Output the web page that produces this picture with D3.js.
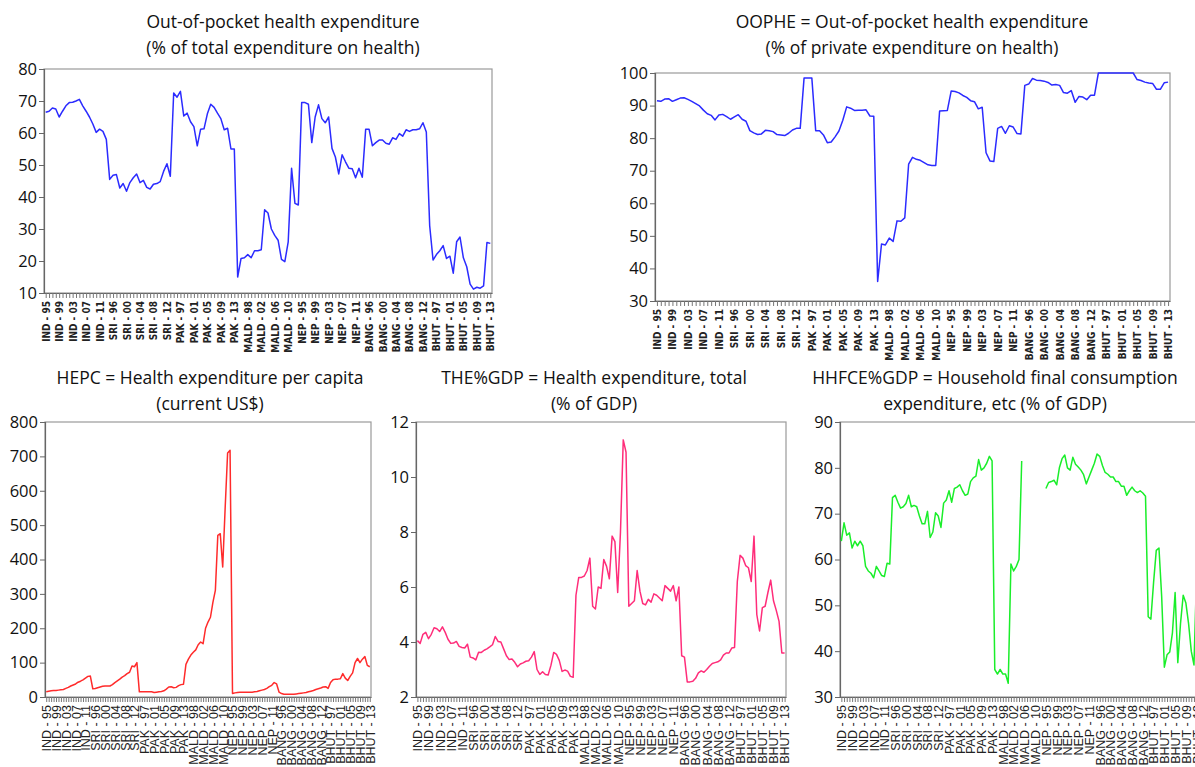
<!DOCTYPE html>
<html>
<head>
<meta charset="utf-8">
<script src="https://cdn.jsdelivr.net/npm/d3@7"></script>
<style>
  html, body { margin: 0; padding: 0; background: #fff; }
  svg { display: block; }
  .title { font-family: "Open Sans", "Noto Sans", sans-serif; font-size: 17.5px; fill: #111; }
  .ytick text { font-family: "Open Sans", "Noto Sans", sans-serif; font-size: 16.5px; fill: #111; }
  .xtop text { font-family: "Liberation Sans Narrow", "DejaVu Sans Condensed", "Liberation Sans", sans-serif; font-size: 10px; font-weight: bold; fill: #222; }
  .xbot text { font-family: "Liberation Sans", "DejaVu Sans", sans-serif; font-size: 12.5px; fill: #222; }
</style>
</head>
<body>
<svg id="chart" width="1195" height="767"></svg>
<script>
// ---- categories ----
const countries = ["IND", "SRI", "PAK", "MALD", "NEP", "BANG", "BHUT"];
const years = ["95","96","97","98","99","00","01","02","03","04","05","06","07","08","09","10","11","12","13"];
const categories = countries.flatMap(c => years.map(y => c + " - " + y));

// ---- series (IND, SRI, PAK, MALD, NEP, BANG, BHUT; 1995-2013 each) ----
const oopTotal = [
  66.5, 66.8, 67.8, 67.5, 65, 66.8, 68.5, 69.5, 69.6, 70, 70.5, 68.5, 66.8, 65, 62.8, 60.2, 61.2, 60.5, 58,
  45.5, 46.8, 47, 42.8, 44.2, 41.8, 44.5, 46, 47.2, 44.5, 45.2, 43, 42.5, 44, 44.2, 44.8, 48, 50.4, 46.5,
  72.5, 71.2, 73, 65.3, 66.2, 63.5, 62, 56, 61.2, 61.3, 66, 69, 68, 66.2, 64.5, 61, 61.5, 55, 55,
  15, 20.8, 21, 22, 21, 23.2, 23.2, 23.5, 36, 35, 30, 28, 26.5, 20.5, 19.8, 26, 49, 38, 37.5,
  69.5, 69.5, 69, 57, 65, 68.8, 64.5, 63.2, 65, 55.2, 52.5, 47.2, 53.2, 51, 49, 48.8, 46, 49, 46.2,
  61.2, 61.2, 56, 57, 57.8, 57.8, 56.8, 56.5, 58.5, 58, 59.8, 59, 61, 60.5, 61, 61, 61.3, 63.2, 60.3,
  31, 20.3, 22, 23.2, 24.8, 20.8, 21.5, 16.2, 26, 27.5, 21, 18.2, 12.8, 11.2, 11.8, 11.5, 12.2, 25.8, 25.5
];
const oopPrivate = [
  91.5, 91.3, 92, 92.1, 91.3, 91.8, 92.3, 92.4, 91.9, 91.3, 90.6, 89.9, 88.6, 87.5, 87, 85.6, 87.1, 87.3, 86.6,
  85.8, 86.5, 87.2, 85.8, 85.2, 82.3, 81.6, 81.1, 81.3, 82.4, 82.3, 82, 81.1, 81, 80.8, 81.5, 82.5, 83, 83,
  98.5, 98.5, 98.5, 82.3, 82.3, 81, 78.6, 78.8, 80.4, 82.2, 85.5, 89.6, 89.2, 88.5, 88.6, 88.6, 88.7, 86.8, 86.7,
  36, 47.5, 47.2, 49.3, 48.3, 54.6, 54.5, 55.5, 72, 74.1, 73.5, 73.2, 72.5, 71.8, 71.6, 71.6, 88.3, 88.4, 88.5,
  94.5, 94.3, 93.9, 93.1, 92.5, 91.5, 91.2, 89, 89.5, 75.5, 73, 72.8, 83, 83.6, 81.5, 83.8, 83.4, 81.4, 81.3,
  96.2, 96.6, 98.3, 97.8, 97.7, 97.5, 97.1, 96.3, 96.5, 96.2, 94, 93.8, 94.6, 91, 92.8, 92.6, 91.8, 93.2, 93.2,
  100, 100, 100, 100, 100, 100, 100, 100, 100, 100, 98, 97.7, 97.2, 96.9, 96.8, 95, 95, 97, 97.2
];
const hepc = [
  15, 17, 18, 19, 19, 20, 21, 22, 25, 28, 32, 35, 38, 43, 46, 50, 55, 60, 61,
  24, 25, 27, 29, 31, 32, 32, 32, 36, 42, 47, 52, 58, 62, 68, 72, 90, 88, 100,
  15, 15, 15, 15, 15, 15, 13, 14, 15, 16, 18, 23, 29, 30, 27, 28, 33, 36, 37,
  95, 110, 122, 130, 137, 152, 160, 155, 200, 218, 232, 275, 310, 470, 475, 378, 550, 710, 718,
  10, 12, 13, 14, 14, 14, 14, 14, 14, 15, 16, 18, 20, 22, 25, 30, 34, 42, 38,
  14, 10, 8, 8, 8, 8, 8, 9, 10, 11, 12, 13, 15, 17, 19, 22, 24, 26, 29,
  30, 25, 42, 50, 52, 52, 53, 68, 55, 48, 60, 70, 100, 112, 100, 110, 118, 92, 88
];
const theGdp = [
  4.05, 3.95, 4.28, 4.35, 4.12, 4.28, 4.52, 4.48, 4.38, 4.55, 4.35, 4.1, 3.95, 3.96, 4.02, 3.84, 3.8, 3.78, 3.92,
  3.45, 3.42, 3.35, 3.63, 3.62, 3.7, 3.75, 3.82, 3.9, 4.2, 4.02, 4.0, 3.75, 3.5, 3.36, 3.38, 3.26, 3.1, 3.2,
  3.24, 3.3, 3.32, 3.45, 3.65, 3.0, 2.82, 2.92, 2.82, 2.8, 3.15, 3.62, 3.55, 3.33, 2.93, 2.98, 2.94, 2.75, 2.72,
  5.7, 6.35, 6.35, 6.4, 6.6, 7.05, 5.3, 5.2, 6.0, 5.95, 7.0, 6.75, 6.3, 7.85, 7.65, 5.8, 8.0, 11.35, 10.9,
  5.3, 5.4, 5.5, 6.6, 5.85, 5.4, 5.35, 5.55, 5.45, 5.75, 5.7, 5.6, 5.5, 6.05, 5.95, 5.85, 6.05, 5.5, 6.0,
  3.5, 3.45, 2.55, 2.55, 2.57, 2.68, 2.88, 2.95, 2.9, 3.0, 3.12, 3.22, 3.25, 3.28, 3.35, 3.52, 3.6, 3.6, 3.78,
  3.8, 6.2, 7.15, 7.05, 6.78, 6.7, 6.2, 7.85, 5.0, 4.4, 5.25, 5.3, 5.8, 6.25, 5.5, 5.15, 4.75, 3.6, 3.6
];
const hhfceGdp = [
  64, 68, 65.3, 65.8, 62.5, 64, 63, 64, 63, 58.5, 57.5, 57, 56, 58.5, 57.5, 56.5, 56.3, 59.2, 59,
  73.5, 74, 72.5, 71.2, 71.5, 72.2, 74, 71.5, 71.8, 71.5, 69.5, 67.8, 67.8, 70.5, 64.8, 66, 70.2, 69.5, 67,
  72.3, 73, 75, 72.5, 75.5, 75.8, 76.3, 75, 74, 74.3, 77, 77.8, 78.2, 81.8, 79.5, 80, 81, 82.5, 81.5,
  36, 35, 36, 35, 35, 33, 59, 57.5, 58.5, 60, 81.5, null, null, null, null, null, null, null, null,
  75.5, 76.8, 77, 77.3, 76.3, 80, 82, 82.8, 80, 79.5, 82.3, 80.8, 80.2, 79.5, 78.5, 76.5, 78, 79.5, 81,
  83, 82.5, 80.5, 79, 78.6, 78, 78, 77, 77, 76, 76, 74, 75, 75.8, 75, 74.6, 75, 74.5, 73.8,
  47.5, 47, 55, 62, 62.5, 52, 36.5, 39.2, 39.8, 44, 52.8, 37.5, 46, 52.2, 50.5, 46, 40, 37, 57
];

// ---- tick values ----
const ticksOopTotal = [10, 20, 30, 40, 50, 60, 70, 80];
const ticksOopPrivate = [30, 40, 50, 60, 70, 80, 90, 100];
const ticksHepc = [0, 100, 200, 300, 400, 500, 600, 700, 800];
const ticksThe = [2, 4, 6, 8, 10, 12];
const ticksHhfce = [30, 40, 50, 60, 70, 80, 90];

const svg = d3.select("#chart");
svg.append("rect").attr("width", 1195).attr("height", 767).attr("fill", "#fff");

const panels = [
  { data: oopTotal, ticks: ticksOopTotal, domain: [10, 80], color: "#2b2bff",
    box: [44, 492, 69, 293], titles: ["Out-of-pocket health expenditure", "(% of total expenditure on health)"],
    tx: 283, ty: [28, 54], xcls: "xtop" },
  { data: oopPrivate, ticks: ticksOopPrivate, domain: [30, 100], color: "#2b2bff",
    box: [655, 1170, 73, 301], titles: ["OOPHE = Out-of-pocket health expenditure", "(% of private expenditure on health)"],
    tx: 912, ty: [28, 54], xcls: "xtop" },
  { data: hepc, ticks: ticksHepc, domain: [0, 800], color: "#ff2b2b",
    box: [45, 371, 422, 697], titles: ["HEPC = Health expenditure per capita", "(current US$)"],
    tx: 210, ty: [384, 410], xcls: "xbot" },
  { data: theGdp, ticks: ticksThe, domain: [2, 12], color: "#ff2d7a",
    box: [416, 786, 422, 697], titles: ["THE%GDP = Health expenditure, total", "(% of GDP)"],
    tx: 594, ty: [384, 410], xcls: "xbot" },
  { data: hhfceGdp, ticks: ticksHhfce, domain: [30, 90], color: "#1aee2a",
    box: [840, 1198, 422, 697], titles: ["HHFCE%GDP = Household final consumption", "expenditure, etc (% of GDP)"],
    tx: 995, ty: [384, 410], xcls: "xbot" }
];

panels.forEach(p => {
  const [l, r, t, b] = p.box;
  const g = svg.append("g");
  const x = d3.scalePoint().domain(d3.range(categories.length)).range([l, r]).padding(0.5);
  const y = d3.scaleLinear().domain(p.domain).range([b, t]);

  // frame
  g.append("rect").attr("x", l).attr("y", t).attr("width", r - l).attr("height", b - t)
    .attr("fill", "none").attr("stroke", "#9a9a9a").attr("stroke-width", 1.2);

  // y axis
  const ya = g.append("g").attr("class", "ytick").attr("transform", `translate(${l},0)`)
    .call(d3.axisLeft(y).tickValues(p.ticks).tickSize(5).tickPadding(2).tickFormat(d3.format("d")));
  ya.select(".domain").attr("stroke", "#666").attr("stroke-width", 1.2);
  ya.selectAll(".tick line").attr("stroke", "#666");

  // x axis
  const xa = g.append("g").attr("class", p.xcls).attr("transform", `translate(0,${b})`)
    .call(d3.axisBottom(x).tickSize(5).tickSizeOuter(0)
      .tickFormat(i => (i % 4 === 0 ? categories[i] : "")));
  xa.select(".domain").attr("stroke", "#666").attr("stroke-width", 1.2);
  xa.selectAll(".tick line").attr("stroke", "#777");
  xa.selectAll(".tick text")
    .attr("transform", "rotate(-90)")
    .attr("x", -8).attr("y", 0).attr("dy", "0.35em")
    .style("text-anchor", "end");

  // line
  const line = d3.line().defined(d => d != null)
    .x((d, i) => x(i)).y(d => y(d));
  g.append("path").datum(p.data)
    .attr("fill", "none").attr("stroke", p.color).attr("stroke-width", 1.5)
    .attr("stroke-linejoin", "round").attr("d", line);

  // titles
  p.titles.forEach((s, k) => {
    g.append("text").attr("class", "title").attr("x", p.tx).attr("y", p.ty[k])
      .attr("text-anchor", "middle").text(s);
  });
});
</script>
</body>
</html>
